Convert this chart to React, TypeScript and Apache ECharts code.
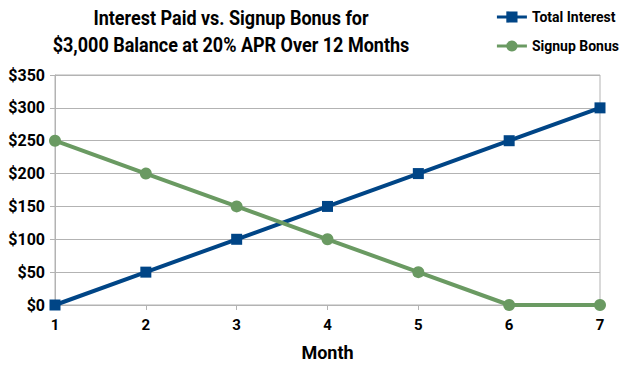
import React, { useEffect, useRef } from "react";
import * as echarts from "echarts";

const months = ["1", "2", "3", "4", "5", "6", "7"];
const totalInterest = [0, 50, 100, 150, 200, 250, 300];
const signupBonus = [250, 200, 150, 100, 50, 0, 0];
const titleLines = ["Interest Paid vs. Signup Bonus for", "$3,000 Balance at 20% APR Over 12 Months"];

const FONT = "Roboto, sans-serif";
const BLUE = "#004586";
const GREEN = "#6a9a62";

export default function App() {
  const ref = useRef<HTMLDivElement>(null);
  useEffect(() => {
    if (!ref.current) return;
    const chart = echarts.init(ref.current, undefined, { renderer: "svg" });
    chart.setOption({
      animation: false,
      backgroundColor: "#ffffff",
      textStyle: { fontFamily: FONT },
      graphic: titleLines.map((t, i) => ({
        type: "text",
        x: 231,
        y: 18 + i * 27,
        scaleX: 0.9,
        style: {
          text: t,
          fontFamily: FONT,
          fontWeight: "bold",
          fontSize: 20,
          fill: "#000",
          textAlign: "center",
          textVerticalAlign: "middle",
        },
      })),
      legend: {
        orient: "vertical",
        right: 21,
        top: 10,
        padding: 0,
        itemGap: 15,
        itemWidth: 30,
        itemHeight: 14,
        lineStyle: { width: 3 },
        textStyle: { fontFamily: FONT, fontWeight: "bold", fontSize: 14, lineHeight: 14, color: "#000" },
        data: ["Total Interest", "Signup Bonus"],
      },
      grid: {
        left: 55,
        right: 40,
        top: 75,
        bottom: 60,
        outerBoundsMode: "none",
        show: true,
        borderColor: "#b3b3b3",
        borderWidth: 1,
      },
      xAxis: {
        type: "category",
        data: months,
        boundaryGap: false,
        name: "Month",
        nameLocation: "middle",
        nameGap: 38,
        nameTextStyle: { fontFamily: FONT, fontWeight: "bold", fontSize: 18, color: "#000" },
        axisLine: { lineStyle: { color: "#b3b3b3" } },
        axisTick: { show: true, length: 5, lineStyle: { color: "#b3b3b3" } },
        axisLabel: { fontFamily: FONT, fontWeight: "bold", fontSize: 15, color: "#000", margin: 12 },
        splitLine: { show: false },
      },
      yAxis: {
        type: "value",
        min: 0,
        max: 350,
        interval: 50,
        axisLine: { show: true, lineStyle: { color: "#b3b3b3" } },
        axisTick: { show: true, length: 5, lineStyle: { color: "#b3b3b3" } },
        axisLabel: {
          fontFamily: FONT,
          fontWeight: "bold",
          fontSize: 16,
          color: "#000",
          margin: 10,
          formatter: (v: number) => "$" + v,
        },
        splitLine: { show: true, lineStyle: { color: "#b3b3b3" } },
      },
      series: [
        {
          name: "Total Interest",
          type: "line",
          data: totalInterest,
          symbol: "rect",
          symbolSize: 11,
          lineStyle: { color: BLUE, width: 4 },
          itemStyle: { color: BLUE },
        },
        {
          name: "Signup Bonus",
          type: "line",
          data: signupBonus,
          symbol: "circle",
          symbolSize: 12,
          lineStyle: { color: GREEN, width: 4 },
          itemStyle: { color: GREEN },
        },
      ],
    });
    return () => chart.dispose();
  }, []);
  return <div ref={ref} style={{ width: 640, height: 365, position: "fixed", left: 0, top: 0 }} />;
}
